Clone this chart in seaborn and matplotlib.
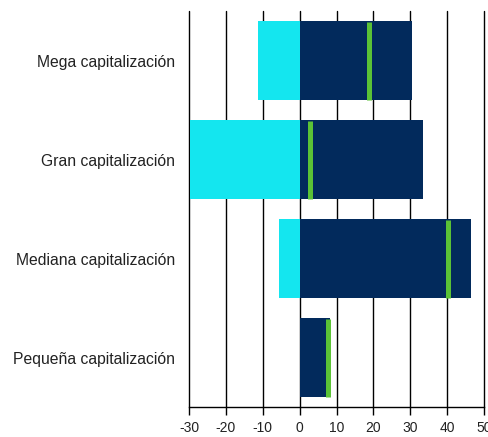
import matplotlib
matplotlib.use("Agg")
import matplotlib.pyplot as plt
import seaborn as sns
import pandas as pd

categories = ["Mega capitalización", "Gran capitalización",
              "Mediana capitalización", "Pequeña capitalización"]
negative = [-11.3, -29.8, -5.6, 0.0]
positive = [30.6, 33.4, 46.4, 8.2]
net = [18.9, 2.9, 40.2, 7.6]
xticks = [-30, -20, -10, 0, 10, 20, 30, 40, 50]

df = pd.DataFrame({"cat": categories, "neg": negative, "pos": positive, "net": net})

sns.set_theme(style="white")
plt.rcParams['font.family'] = ['Liberation Sans', 'DejaVu Sans']

fig = plt.figure(figsize=(4.88, 4.37), dpi=100)
ax = fig.add_axes([0.3873, 0.0686, 0.9918 - 0.3873, 0.9748 - 0.0686])

sns.barplot(data=df, y="cat", x="pos", orient="h", color="#022a5c",
            saturation=1, width=0.8, linewidth=0, ax=ax, zorder=2)
sns.barplot(data=df, y="cat", x="neg", orient="h", color="#14e6ef",
            saturation=1, width=0.8, linewidth=0, ax=ax, zorder=2)
sns.scatterplot(data=df, y="cat", x="net", marker="|", s=56 ** 2,
                color="#5bc236", linewidth=3.6, ax=ax, zorder=3, legend=False)

ax.set_xlim(-30, 50)
ax.set_ylim(3.5, -0.5)
ax.set_xticks(xticks)
ax.set_xticklabels([str(t) for t in xticks], fontsize=10, color="#222222")
ax.tick_params(axis="x", length=6, width=1, color="black", direction="out", pad=4, bottom=True)
ax.tick_params(axis="y", length=0, labelsize=11.3, labelcolor="#222222", pad=10)
ax.xaxis.grid(True, color="black", linewidth=1)
for gl in ax.get_xgridlines():
    gl.set_clip_on(False)
ax.set_axisbelow(True)
ax.set_xlabel("")
ax.set_ylabel("")
for s in ["top", "right", "left"]:
    ax.spines[s].set_visible(False)
ax.spines["bottom"].set_color("black")
ax.spines["bottom"].set_linewidth(1)

fig.savefig("out.png", dpi=100)
